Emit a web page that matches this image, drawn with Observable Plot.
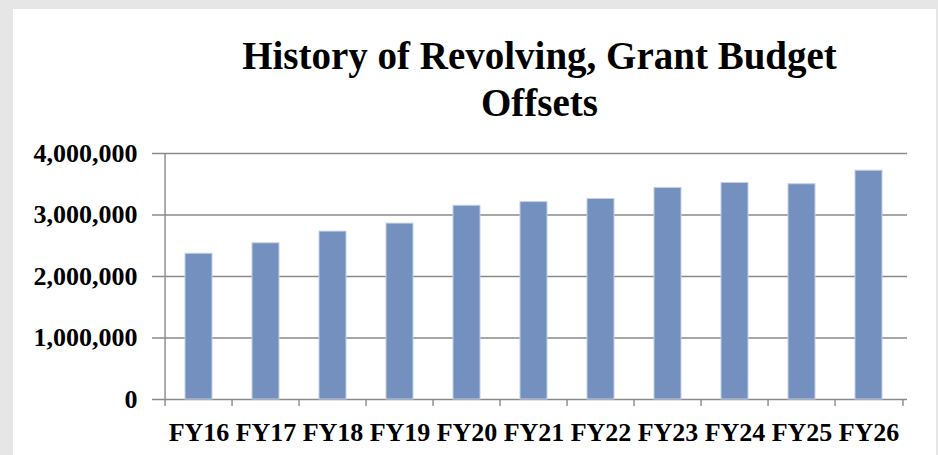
<!DOCTYPE html>
<html>
<head>
<meta charset="utf-8">
<script src="https://cdn.jsdelivr.net/npm/d3@7"></script>
<script src="https://cdn.jsdelivr.net/npm/@observablehq/plot@0.6"></script>
<style>
  html, body { margin: 0; padding: 0; background: #e6e6e6; width: 938px; height: 455px; overflow: hidden; }
  #panel { position: absolute; left: 13px; top: 9px; width: 923px; height: 446px; background: #ffffff; }
  #title { position: absolute; left: 0; top: 0; width: 923px; height: 126px; box-sizing: border-box; padding-top: 23px; padding-left: 130px;
    font-family: "Liberation Serif", "DejaVu Serif", serif; font-weight: bold; font-size: 39px; line-height: 47px; text-align: center; color: #000; }
  #chart { position: absolute; left: 0; top: 126px; }
</style>
</head>
<body>
<div id="panel">
  <div id="title">History of Revolving, Grant Budget<br>Offsets</div>
  <div id="chart"></div>
</div>
<script>
const categories = ["FY16","FY17","FY18","FY19","FY20","FY21","FY22","FY23","FY24","FY25","FY26"];
const values = [2370000, 2540000, 2730000, 2860000, 3150000, 3210000, 3260000, 3440000, 3520000, 3500000, 3720000];
const yTicks = [0, 1000000, 2000000, 3000000, 4000000];

const data = categories.map((c, i) => ({category: c, value: values[i]}));

const W = 923, H = 320;
const mL = 147, mR = 29, mT = 18, mB = 56;
const step = (W - mL - mR) / categories.length;
const gridColor = "#8a8a8a";
const font = "'Liberation Serif', 'DejaVu Serif', serif";

const plot = Plot.plot({
  width: W,
  height: H,
  marginLeft: mL,
  marginRight: mR,
  marginTop: mT,
  marginBottom: mB,
  style: {fontFamily: font, fontWeight: "bold", fontSize: "26px", color: "#000", background: "transparent", overflow: "visible"},
  x: {domain: categories, paddingInner: 0.6, paddingOuter: 0.3, label: null},
  y: {domain: [0, 4000000], label: null},
  marks: [
    Plot.gridY(yTicks, {stroke: gridColor, strokeOpacity: 1, strokeWidth: 1.4, insetLeft: -8}),
    Plot.barY(data, {x: "category", y: "value", fill: "#7490bf", stroke: "#c3cfe6", strokeWidth: 1}),
    Plot.ruleX(categories, {x: d => d, dx: -step / 2, insetTop: H - mT - mB, insetBottom: -7, stroke: gridColor, strokeWidth: 1.4}),
    Plot.ruleX(categories.slice(-1), {x: d => d, dx: step / 2, insetTop: H - mT - mB, insetBottom: -7, stroke: gridColor, strokeWidth: 1.4}),
    Plot.ruleX(categories.slice(0, 1), {x: d => d, dx: -step / 2, stroke: gridColor, strokeWidth: 1.4}),
    Plot.axisY({ticks: yTicks, tickFormat: d3.format(","), tickSize: 0, tickPadding: 23, fill: "#000", fontSize: 26, fontWeight: "bold"}),
    Plot.axisX({tickSize: 0, tickPadding: 23, fill: "#000", fontSize: 26, fontWeight: "bold"})
  ]
});
document.getElementById("chart").appendChild(plot);
</script>
</body>
</html>
